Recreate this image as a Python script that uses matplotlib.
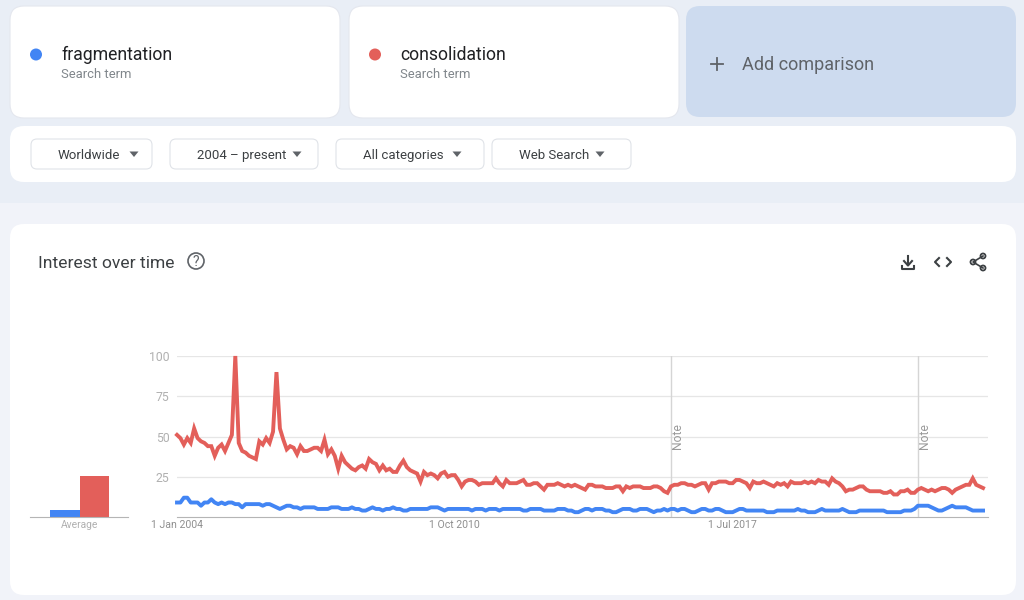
import matplotlib
matplotlib.use("Agg")
import matplotlib.pyplot as plt
from matplotlib.patches import FancyBboxPatch, Circle, Polygon

# monthly interest values
consolidation = [
    51, 49, 45, 49, 46, 55, 49, 47, 46, 44,
    44, 38, 43, 45, 41, 46, 51, 100, 46, 41,
    40, 38, 37, 36, 47, 45, 49, 46, 53, 90,
    55, 48, 42, 44, 43, 39, 44, 41, 41, 42,
    43, 43, 41, 48, 39, 42, 38, 30, 38, 34,
    32, 30, 29, 31, 32, 30, 36, 34, 33, 29,
    32, 29, 30, 28, 28, 32, 35, 31, 29, 28,
    27, 22, 28, 26, 27, 26, 24, 27, 28, 25,
    26, 26, 23, 19, 22, 23, 23, 22, 20, 21,
    21, 21, 21, 24, 21, 19, 23, 21, 21, 21,
    22, 23, 20, 20, 21, 21, 19, 17, 20, 20,
    20, 21, 20, 19, 20, 19, 20, 19, 18, 17,
    20, 20, 19, 19, 19, 18, 18, 18, 19, 19,
    16, 19, 18, 19, 19, 19, 18, 18, 18, 19,
    19, 18, 16, 15, 19, 20, 20, 21, 21, 20,
    20, 19, 20, 21, 21, 17, 21, 21, 22, 22,
    22, 21, 21, 23, 23, 22, 21, 18, 22, 21,
    21, 22, 21, 20, 19, 21, 20, 21, 19, 22,
    21, 21, 21, 22, 21, 22, 21, 23, 22, 22,
    20, 24, 22, 21, 19, 16, 17, 17, 18, 19,
    19, 17, 16, 16, 16, 16, 15, 15, 16, 14,
    14, 16, 16, 17, 15, 15, 17, 18, 17, 16,
    17, 16, 17, 18, 18, 17, 15, 17, 18, 19,
    20, 20, 24, 20, 19, 18,
]
fragmentation = [
    9, 9, 12, 12, 9, 9, 9, 7, 9, 9,
    11, 9, 8, 9, 8, 9, 9, 8, 8, 6,
    8, 8, 8, 8, 8, 7, 8, 8, 7, 6,
    5, 6, 7, 7, 6, 6, 5, 6, 6, 6,
    6, 5, 5, 5, 5, 6, 6, 6, 5, 5,
    5, 6, 5, 5, 4, 4, 5, 6, 5, 5,
    4, 5, 5, 6, 5, 5, 4, 4, 5, 5,
    5, 5, 5, 5, 6, 6, 6, 5, 4, 5,
    5, 5, 5, 5, 5, 5, 4, 5, 5, 5,
    4, 5, 5, 5, 4, 5, 5, 5, 5, 5,
    5, 4, 4, 5, 5, 5, 5, 4, 4, 4,
    4, 5, 5, 5, 4, 4, 3, 3, 4, 5,
    5, 4, 5, 5, 5, 4, 4, 3, 3, 4,
    5, 5, 5, 4, 4, 5, 5, 5, 4, 3,
    4, 4, 5, 4, 5, 5, 4, 5, 5, 4,
    3, 3, 4, 5, 5, 4, 4, 5, 5, 4,
    3, 3, 3, 4, 5, 5, 4, 4, 4, 4,
    4, 4, 3, 3, 3, 4, 4, 4, 4, 4,
    4, 5, 4, 4, 3, 3, 3, 4, 5, 4,
    4, 4, 4, 4, 5, 4, 3, 3, 3, 4,
    4, 4, 4, 4, 4, 4, 4, 3, 3, 3,
    3, 3, 4, 4, 4, 5, 7, 7, 7, 7,
    6, 5, 4, 4, 5, 6, 7, 6, 6, 6,
    6, 5, 4, 4, 4, 4,
]
averages = [4.3, 25.6]
y_ticks = [25, 50, 75, 100]
x_tick_months = [0, 81, 162]
x_tick_labels = ["1 Jan 2004", "1 Oct 2010", "1 Jul 2017"]
note_months = [144, 216]
filters = ["Worldwide", "2004 – present", "All categories", "Web Search"]

BLUE = "#4285f4"
RED = "#e35f5a"
PAGE = "#e9eef6"
GREY_TEXT = "#5f6368"
TICK = "#b0b0b0"
GRID = "#e6e6e6"

plt.rcParams["font.family"] = ["Roboto", "DejaVu Sans"]

W, H = 1024, 600
fig = plt.figure(figsize=(W / 100, H / 100), dpi=100, facecolor=PAGE)


def axes_px(left, top, right, bottom):
    return fig.add_axes([left / W, 1 - bottom / H, (right - left) / W, (bottom - top) / H])


# page furniture is drawn in pixel coordinates
bg = fig.add_axes([0, 0, 1, 1])
bg.set_xlim(0, W)
bg.set_ylim(H, 0)
bg.axis("off")


def card(x0, y0, x1, y1, r=14, fc="white", ec="none", lw=0.8):
    bg.add_patch(FancyBboxPatch((x0, y0), x1 - x0, y1 - y0, boxstyle=f"round,pad=0,rounding_size={r}",
                                fc=fc, ec=ec, lw=lw))


bg.fill_between([0, W], 203, H, color="#f1f3f9", lw=0)

card(10, 6, 340, 118, ec="#e4e7ee")
card(349, 6, 679, 118, ec="#e4e7ee")
card(686, 6, 1016, 117, fc="#cddbef")
card(10, 126, 1016, 182)
card(10, 224, 1016, 595)

# search term cards
for x, term, color in [(36, "fragmentation", BLUE), (375, "consolidation", RED)]:
    bg.add_patch(Circle((x, 54.5), 6, fc=color, ec="none"))
    bg.text(x + 25, 59.5, term, fontsize=12.7, color="#202124", va="baseline")
    bg.text(x + 25, 78.5, "Search term", fontsize=9.4, color="#80868b", va="baseline")

bg.plot([711, 723], [63.5, 63.5], color=GREY_TEXT, lw=1.3)
bg.plot([717, 717], [57.5, 69.5], color=GREY_TEXT, lw=1.3)
bg.text(742, 69.5, "Add comparison", fontsize=13, color=GREY_TEXT, va="baseline")

# filter buttons
buttons = [(31, 152), (170, 318), (336, 484), (492, 631)]
label_x = [58, 197, 363, 519]
arrow_x = [134, 297, 457, 600]
for (x0, x1), label, lx, cx in zip(buttons, filters, label_x, arrow_x):
    card(x0, 139, x1, 169, r=6, ec="#e0e3e8")
    bg.text(lx, 159, label, fontsize=9.5, color="#3c4043", va="baseline")
    bg.add_patch(Polygon([(cx - 4.5, 151.5), (cx + 4.5, 151.5), (cx, 157)], fc=GREY_TEXT, ec="none"))

# card header
bg.text(38, 267.5, "Interest over time", fontsize=12.6, color="#3c4043", va="baseline")
bg.add_patch(Circle((196, 261), 8, fc="none", ec=GREY_TEXT, lw=1.2))
bg.text(196, 261.5, "?", fontsize=10, color=GREY_TEXT, ha="center", va="center")

# download icon
bg.plot([908, 908], [256, 265], color="#3c4043", lw=1.5)
bg.plot([904, 908, 912], [261, 265.5, 261], color="#3c4043", lw=1.5)
bg.plot([902, 902, 914, 914], [266, 269, 269, 266], color="#3c4043", lw=1.5)
# embed icon
bg.plot([939, 935, 939], [258, 262, 266], color="#3c4043", lw=1.5)
bg.plot([947, 951, 947], [258, 262, 266], color="#3c4043", lw=1.5)
# share icon
bg.plot([983, 973, 983], [256, 262, 268], color="#3c4043", lw=1.2)
for cx, cy in [(983, 256), (973, 262), (983, 268)]:
    bg.add_patch(Circle((cx, cy), 2.5, fc="white", ec="#3c4043", lw=1.3))

# average bars
ax_avg = axes_px(30, 356, 128, 517)
ax_avg.patch.set_alpha(0)
ax_avg.bar([0, 1], averages, width=1, color=[BLUE, RED])
ax_avg.set_xlim(-1.18, 2.14)
ax_avg.set_ylim(0, 100)
ax_avg.set_yticks([])
ax_avg.set_xticks([0.5], ["Average"])
ax_avg.tick_params(axis="x", length=0, labelsize=7.4, labelcolor=TICK, pad=2.5)
for side in ["top", "left", "right"]:
    ax_avg.spines[side].set_visible(False)
ax_avg.spines["bottom"].set_color("#b5b5b5")

# main line chart
ax = axes_px(177, 356, 988, 517)
ax.patch.set_alpha(0)
months = list(range(len(consolidation)))
ax.plot(months, fragmentation, color=BLUE, lw=2.8, solid_joinstyle="round", clip_on=False, zorder=3)
ax.plot(months, consolidation, color=RED, lw=2.8, solid_joinstyle="miter", clip_on=False, zorder=3)
ax.set_xlim(0, (988 - 177) / 3.43)
ax.set_ylim(0, 100)
ax.set_yticks(y_ticks)
ax.set_xticks(x_tick_months, x_tick_labels)
ax.tick_params(axis="x", length=0, labelsize=7.6, labelcolor="#8f8f8f", pad=2.5)
ax.tick_params(axis="y", length=0, labelsize=8.8, labelcolor=TICK, pad=5.5)
ax.grid(True, axis="y", color=GRID, lw=0.9)
ax.set_axisbelow(True)
for side in ["top", "left", "right"]:
    ax.spines[side].set_visible(False)
ax.spines["bottom"].set_color("#b5b5b5")
for m in note_months:
    ax.axvline(m, color="#d5d5d5", lw=1, zorder=1)
    ax.text(m + 2, 50.5, "Note", rotation=90, fontsize=8.7, color="#9a9a9a", ha="center", va="center")

fig.savefig("out.png", dpi=100)
